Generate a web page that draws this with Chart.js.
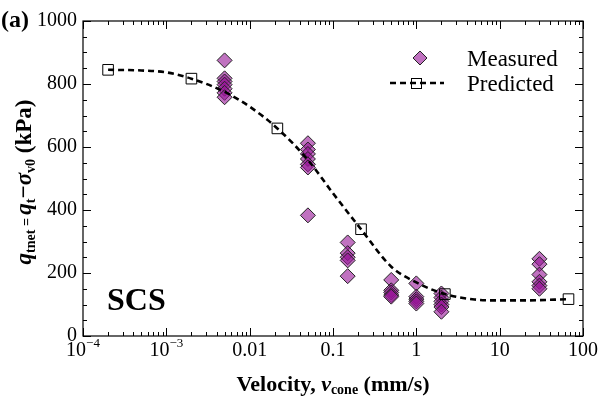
<!DOCTYPE html>
<html>
<head>
<meta charset="utf-8">
<script src="https://cdn.jsdelivr.net/npm/chart.js@4/dist/chart.umd.min.js"></script>
<style>
  body { margin: 0; background: #fff; }
  #wrap { width: 602px; height: 399px; }
</style>
</head>
<body>
<div id="wrap"><canvas id="chart-1" width="602" height="399"></canvas></div>
<script>
// 測定値 (velocity mm/s, q_tnet kPa)
const measVel = [
    0.005, 0.005, 0.005, 0.005, 0.005, 0.005, 0.005,
    0.05, 0.05, 0.05, 0.05, 0.05, 0.05, 0.05,
    0.15, 0.15, 0.15, 0.15, 0.15,
    0.5, 0.5, 0.5, 0.5, 0.5,
    1, 1, 1, 1, 1,
    2, 2, 2, 2, 2, 2,
    30, 30, 30, 30, 30, 30
];
const measQ = [
    875, 818, 808, 798, 785, 772, 758,
    612, 592, 578, 562, 545, 535, 383,
    297, 263, 250, 240, 190,
    178, 145, 138, 130, 125,
    167, 125, 117, 110, 103,
    135, 122, 110, 100, 92, 77,
    245, 228, 195, 172, 160, 150
];

// 予測値 (squares)
const predVel = [0.0002, 0.002, 0.0215, 0.217, 2.2, 67];
const predQ = [845, 817, 659, 339, 133, 117];

// 予測曲線
const curveVel = [0.0002, 0.0005, 0.001, 0.002, 0.005, 0.01, 0.0215, 0.05, 0.1, 0.217, 0.5, 1, 2.2, 5, 10, 20, 67];
const curveQ = [845, 843, 837, 817, 775, 728, 659, 559, 453, 339, 220, 170, 133, 116, 113, 113, 117];

// x軸のラベル
const xTickExp = [-4, -3, -2, -1, 0, 1, 2];
const xTickLabels = ['10|−4', '10|−3', '0.01', '0.1', '1', '10', '100'];

const serif = "'Liberation Serif', 'Times New Roman', serif";

function toPoints(xs, ys) {
    return xs.map((v, i) => ({ x: v, y: ys[i] }));
}

// 枠・目盛り・テキストを描写
const framePlugin = {
    id: 'frame',
    afterDraw(chart) {
        const ctx = chart.ctx;
        const a = chart.chartArea;
        const xs = chart.scales.x;
        const ys = chart.scales.y;
        ctx.save();
        ctx.strokeStyle = '#000';
        ctx.lineWidth = 1.2;
        ctx.strokeRect(a.left, a.top, a.right - a.left, a.bottom - a.top);

        ctx.lineWidth = 1;
        ctx.beginPath();
        for (let k = -4; k <= 2; k++) {
            for (let m = 1; m <= 9; m++) {
                if (k === 2 && m > 1) break;
                const px = Math.round(xs.getPixelForValue(m * Math.pow(10, k))) + 0.5;
                const len = m === 1 ? 8 : 4;
                ctx.moveTo(px, a.bottom); ctx.lineTo(px, a.bottom - len);
                ctx.moveTo(px, a.top); ctx.lineTo(px, a.top + len);
            }
        }
        for (let v = 0; v <= 1000; v += 50) {
            const py = Math.round(ys.getPixelForValue(v)) + 0.5;
            const len = v % 200 === 0 ? 8 : 4;
            ctx.moveTo(a.left, py); ctx.lineTo(a.left + len, py);
            ctx.moveTo(a.right, py); ctx.lineTo(a.right - len, py);
        }
        ctx.stroke();

        // x tick labels
        ctx.fillStyle = '#000';
        ctx.textBaseline = 'alphabetic';
        xTickExp.forEach((e, i) => {
            const px = xs.getPixelForValue(Math.pow(10, e));
            const parts = xTickLabels[i].split('|');
            ctx.font = '20px ' + serif;
            const w0 = ctx.measureText(parts[0]).width;
            let w1 = 0;
            if (parts[1]) {
                ctx.font = '13px ' + serif;
                w1 = ctx.measureText(parts[1]).width;
            }
            const x0 = px - (w0 + w1) / 2;
            ctx.font = '20px ' + serif;
            ctx.textAlign = 'left';
            ctx.fillText(parts[0], x0, 356);
            if (parts[1]) {
                ctx.font = '13px ' + serif;
                ctx.fillText(parts[1], x0 + w0, 347);
            }
        });

        // 文字列を連結して描写
        function runs(list, x, y) {
            let w = 0;
            list.forEach(r => { ctx.font = r[1]; w += ctx.measureText(r[0]).width; });
            let cx = x - w / 2;
            list.forEach(r => {
                ctx.font = r[1];
                ctx.fillText(r[0], cx, y + (r[2] || 0));
                cx += ctx.measureText(r[0]).width;
            });
        }

        // x title
        ctx.textAlign = 'left';
        runs([
            ['Velocity, ', 'bold 22px ' + serif],
            ['v', 'italic bold 22px ' + serif],
            ['cone', 'bold 14px ' + serif, 3],
            [' (mm/s)', 'bold 22px ' + serif]
        ], (a.left + a.right) / 2, 391);

        // y title
        ctx.save();
        ctx.translate(31, 182);
        ctx.rotate(-Math.PI / 2);
        runs([
            ['q', 'italic bold 23px ' + serif],
            ['tnet', 'bold 14px ' + serif, 4],
            [' = ', 'bold 14px ' + serif],
            ['q', 'italic bold 23px ' + serif],
            ['t', 'bold 14px ' + serif, 4],
            ['−', 'bold 23px ' + serif],
            ['σ', 'italic bold 23px ' + serif],
            ['v0', 'bold 14px ' + serif, 4],
            [' (kPa)', 'bold 23px ' + serif]
        ], 0, 0);
        ctx.restore();

        // (a) と SCS
        ctx.font = 'bold 24px ' + serif;
        ctx.fillText('(a)', 1, 27);
        ctx.font = 'bold 32px ' + serif;
        ctx.fillText('SCS', 107, 310);

        // 凡例
        ctx.font = '23px ' + serif;
        ctx.fillText('Measured', 467, 66);
        ctx.fillText('Predicted', 467, 91);
        ctx.beginPath();
        ctx.moveTo(420, 51); ctx.lineTo(427, 58); ctx.lineTo(420, 65); ctx.lineTo(413, 58); ctx.closePath();
        ctx.fillStyle = 'rgba(150, 20, 150, 0.6)';
        ctx.fill();
        ctx.strokeStyle = '#222';
        ctx.lineWidth = 1;
        ctx.stroke();
        ctx.setLineDash([6, 4]);
        ctx.lineWidth = 2.6;
        ctx.strokeStyle = '#000';
        ctx.beginPath();
        ctx.moveTo(390, 83); ctx.lineTo(444, 83);
        ctx.stroke();
        ctx.setLineDash([]);
        ctx.lineWidth = 1;
        ctx.strokeRect(411.5, 78.5, 10, 10);

        ctx.restore();
    }
};

function drawChart() {
    const data = {
        datasets: [{
            label: 'Predicted curve',
            data: toPoints(curveVel, curveQ),
            showLine: true,
            borderColor: '#000',
            borderWidth: 2.6,
            borderDash: [6, 4],
            cubicInterpolationMode: 'monotone',
            pointRadius: 0,
            order: 0
        }, {
            label: 'Predicted',
            data: toPoints(predVel, predQ),
            pointStyle: 'rect',
            pointRadius: 7.5,
            backgroundColor: 'rgba(255,255,255,0)',
            borderColor: '#000',
            borderWidth: 1,
            order: 1
        }, {
            label: 'Measured',
            data: toPoints(measVel, measQ),
            pointStyle: 'rectRot',
            pointRadius: 7.5,
            backgroundColor: 'rgba(150, 20, 150, 0.6)',
            borderColor: '#222',
            borderWidth: 1,
            order: 2
        }]
    };

    const options = {
        responsive: false,
        animation: false,
        layout: { padding: { left: 0, right: 19, top: 21, bottom: 0 } },
        scales: {
            x: {
                type: 'logarithmic',
                min: 0.0001,
                max: 100,
                grid: { display: false, drawTicks: false },
                border: { display: false },
                ticks: { display: false },
                afterFit: function (s) { s.height = 63; }
            },
            y: {
                min: 0,
                max: 1000,
                grid: { display: false, drawTicks: false },
                border: { display: false },
                ticks: {
                    stepSize: 200,
                    padding: 6,
                    color: '#000',
                    font: { family: serif, size: 20 },
                    callback: function (value) { return String(value); }
                },
                afterFit: function (s) { s.width = 83; }
            }
        },
        plugins: {
            legend: { display: false },
            tooltip: { enabled: false }
        }
    };

    const ctx = document.getElementById('chart-1').getContext('2d');
    return new Chart(ctx, {
        type: 'scatter',
        data: data,
        options: options,
        plugins: [framePlugin]
    });
}

drawChart();
</script>
</body>
</html>
